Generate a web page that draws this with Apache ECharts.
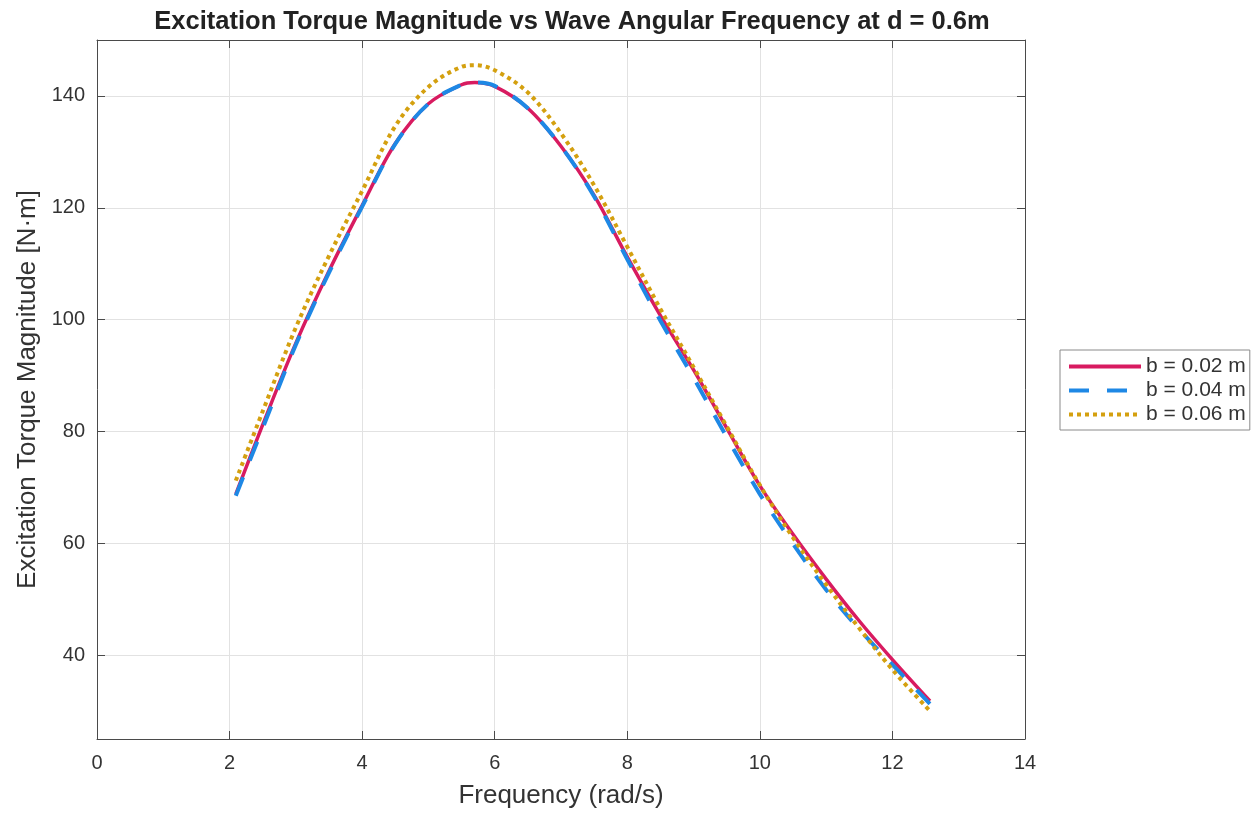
<!DOCTYPE html>
<html>
<head>
<meta charset="utf-8">
<script src="https://cdn.jsdelivr.net/npm/echarts@6/dist/echarts.min.js"></script>
<style>
html,body{margin:0;padding:0;background:#fff;}
#chart{width:1257px;height:814px;}
</style>
</head>
<body>
<div id="chart"></div>
<script>
const freq = [2.094, 2.5, 3, 3.5, 4, 4.5, 5, 5.5, 5.7, 6, 6.5, 7, 7.5, 8, 8.5, 9, 9.5, 10, 10.5, 11, 11.5, 12, 12.566];
const torqueB002 = [68.8, 81.2, 95.8, 108.7, 120.4, 131.5, 138.6, 142.0, 142.4, 141.7, 137.8, 131.0, 122.2, 111.2, 100.7, 91.0, 80.6, 70.3, 61.6, 53.6, 46.1, 39.2, 31.8];
const torqueB004 = [68.5, 80.6, 95.5, 108.4, 120.2, 131.4, 138.6, 142.0, 142.4, 141.8, 137.8, 131.0, 122.0, 110.8, 99.8, 89.6, 79.0, 68.8, 59.9, 51.7, 44.6, 38.3, 31.3];
const torqueB006 = [71.2, 83.6, 98.6, 111.4, 123.0, 134.6, 141.6, 145.2, 145.5, 144.6, 140.6, 133.3, 124.0, 113.0, 101.9, 91.5, 80.9, 70.4, 61.0, 52.6, 44.8, 37.4, 30.0];
const seriesNames = ['b = 0.02 m', 'b = 0.04 m', 'b = 0.06 m'];
const yTicks = [40, 60, 80, 100, 120, 140];
const xTicks = [0, 2, 4, 6, 8, 10, 12, 14];

const pair = (ys) => freq.map((x, i) => [x, ys[i]]);
const axisCol = '#4a4a4a';
const textCol = '#333333';
const font = 'Liberation Sans, Arial, sans-serif';

const chart = echarts.init(document.getElementById('chart'));
chart.setOption({
  backgroundColor: '#fff',
  animation: false,
  title: {
    text: 'Excitation Torque Magnitude vs Wave Angular Frequency at d = 0.6m',
    left: 567, top: 4, textAlign: 'center',
    textStyle: {fontFamily: font, fontSize: 25.5, fontWeight: 'bold', color: '#222'}
  },
  legend: {
    orient: 'vertical', left: 1060, top: 350,
    itemWidth: 72, itemHeight: 14, itemGap: 3,
    padding: [6, 4, 5, 7],
    borderColor: '#8a8a8a', borderWidth: 1,
    itemStyle: {opacity: 0},
    lineStyle: {width: 4},
    textStyle: {fontFamily: font, fontSize: 21, color: textCol},
    data: seriesNames
  },
  grid: {left: 97, right: 232, top: 40, bottom: 73, containLabel: false},
  xAxis: [{
    type: 'value', min: 0, max: 14, interval: 2, position: 'bottom',
    name: 'Frequency (rad/s)', nameLocation: 'middle', nameGap: 44,
    nameTextStyle: {fontFamily: font, fontSize: 26, color: textCol},
    axisLine: {show: true, onZero: false, lineStyle: {color: axisCol, width: 1}},
    axisTick: {show: true, inside: true, length: 8, lineStyle: {color: axisCol}},
    axisLabel: {fontFamily: font, fontSize: 20, color: textCol, margin: 14, formatter: (v) => xTicks.includes(v) ? String(v) : ''},
    splitLine: {show: true, lineStyle: {color: '#e2e2e2', width: 1}}
  }, {
    type: 'value', min: 0, max: 14, interval: 2, position: 'top',
    axisLine: {show: true, onZero: false, lineStyle: {color: axisCol, width: 1}},
    axisTick: {show: true, inside: true, length: 8, lineStyle: {color: axisCol}},
    axisLabel: {show: false}, splitLine: {show: false}
  }],
  yAxis: [{
    type: 'value', min: 25, max: 150, position: 'left',
    name: 'Excitation Torque Magnitude [N·m]', nameLocation: 'middle', nameGap: 56,
    nameTextStyle: {fontFamily: font, fontSize: 26, color: textCol},
    axisLine: {show: true, onZero: false, lineStyle: {color: axisCol, width: 1}},
    axisTick: {show: true, inside: true, length: 8, customValues: yTicks, lineStyle: {color: axisCol}},
    axisLabel: {fontFamily: font, fontSize: 20, color: textCol, margin: 12, customValues: yTicks},
    splitLine: {show: true, lineStyle: {color: '#e2e2e2', width: 1}}
  }, {
    type: 'value', min: 25, max: 150, position: 'right',
    axisLine: {show: true, onZero: false, lineStyle: {color: axisCol, width: 1}},
    axisTick: {show: true, inside: true, length: 8, customValues: yTicks, lineStyle: {color: axisCol}},
    axisLabel: {show: false, customValues: yTicks}, splitLine: {show: false}
  }],
  series: [{
    name: seriesNames[0], type: 'line', data: pair(torqueB002), smooth: 0.35,
    showSymbol: false, symbol: 'none', color: '#D81B60',
    lineStyle: {color: '#D81B60', width: 3.5}
  }, {
    name: seriesNames[1], type: 'line', data: pair(torqueB004), smooth: 0.35,
    showSymbol: false, symbol: 'none', color: '#1E88E5',
    lineStyle: {color: '#1E88E5', width: 4, type: [20, 18], cap: 'butt'}
  }, {
    name: seriesNames[2], type: 'line', data: pair(torqueB006), smooth: 0.35,
    showSymbol: false, symbol: 'none', color: '#D4A00F',
    lineStyle: {color: '#D4A00F', width: 4, type: [4, 4], cap: 'butt'}
  }]
});
</script>
</body>
</html>
